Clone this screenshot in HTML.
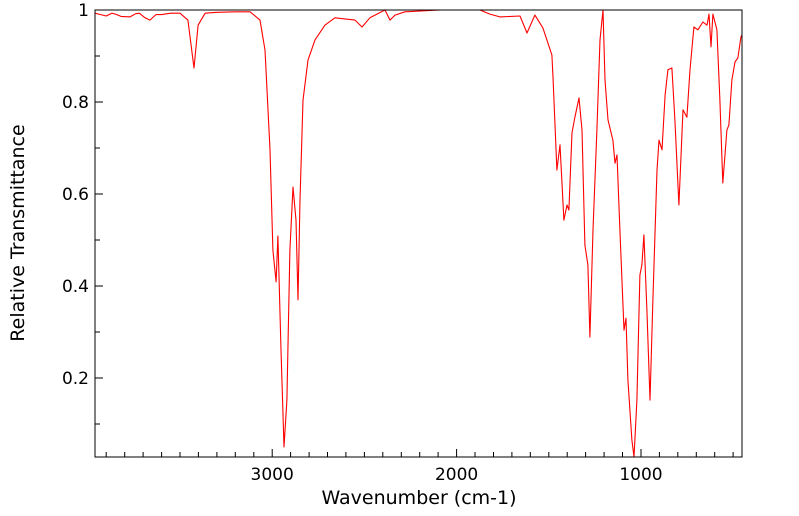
<!DOCTYPE html>
<html><head><meta charset="utf-8"><style>
html,body{margin:0;padding:0;background:#fff;}
svg{display:block;font-family:"DejaVu Sans","Liberation Sans",sans-serif;}
</style></head><body>
<svg id="chart" width="799" height="516" viewBox="0 0 799 516" xmlns="http://www.w3.org/2000/svg">
<g id="ticks"></g>
<path id="line" fill="none" stroke="#ff0000" stroke-width="1.1" stroke-linejoin="round"></path>
<rect x="95" y="10" width="647" height="447" fill="none" stroke="#000" stroke-width="1"></rect>
<g id="labels" font-size="17" fill="#000"></g>
<text x="419" y="504" text-anchor="middle" font-size="19">Wavenumber (cm-1)</text>
<text x="0" y="0" transform="translate(24,233) rotate(-90)" text-anchor="middle" font-size="19">Relative Transmittance</text>
</svg>
<script>
const wavenumbers=[3961,3930,3900,3870,3850,3820,3771,3740,3720,3690,3663,3630,3600,3550,3500,3457,3424,3402,3364,3300,3200,3120,3066,3039,3012,2996,2979,2969,2952,2936,2920,2904,2887,2871,2860,2849,2833,2806,2768,2714,2660,2551,2513,2470,2388,2361,2334,2280,2090,1873,1819,1765,1656,1618,1575,1532,1510,1483,1477,1456,1439,1418,1401,1391,1374,1358,1336,1320,1304,1288,1277,1260,1239,1222,1206,1195,1179,1152,1141,1130,1114,1092,1081,1071,1049,1038,1022,1006,995,984,968,951,935,913,902,886,869,854,832,816,794,772,751,734,713,691,664,642,631,620,610,588,572,556,534,523,507,490,474,458,452];
const transmittance=[0.993,0.990,0.987,0.993,0.991,0.986,0.985,0.992,0.993,0.983,0.978,0.990,0.990,0.993,0.993,0.978,0.874,0.967,0.993,0.995,0.996,0.996,0.978,0.913,0.696,0.478,0.409,0.509,0.261,0.050,0.152,0.478,0.615,0.543,0.370,0.587,0.804,0.891,0.935,0.967,0.983,0.978,0.963,0.983,1.0,0.978,0.989,0.996,1.0,1.0,0.991,0.985,0.987,0.950,0.989,0.961,0.935,0.902,0.854,0.652,0.707,0.543,0.576,0.565,0.733,0.767,0.809,0.739,0.489,0.446,0.289,0.522,0.739,0.935,1.0,0.848,0.761,0.717,0.667,0.685,0.522,0.304,0.330,0.196,0.065,0.028,0.152,0.424,0.446,0.511,0.348,0.152,0.370,0.652,0.717,0.696,0.815,0.870,0.874,0.761,0.576,0.783,0.767,0.870,0.963,0.957,0.974,0.967,0.991,0.920,0.991,0.957,0.804,0.624,0.739,0.750,0.848,0.887,0.896,0.941,0.946];
const xTickLabels=[3000,2000,1000];
const yTickLabels=[0.2,0.4,0.6,0.8,1];
const X0=95,X1=742,Y0=457,Y1=10,WMAX=3961,WMIN=452,TMIN=0.0283,TMAX=1.0;
function xs(w){return X0+(WMAX-w)/(WMAX-WMIN)*(X1-X0);}
function ys(t){return Y0-(t-TMIN)/(TMAX-TMIN)*(Y0-Y1);}
const NS='http://www.w3.org/2000/svg';
let d='';
for(let i=0;i<wavenumbers.length;i++){d+=(i?'L':'M')+xs(wavenumbers[i]).toFixed(1)+','+ys(transmittance[i]).toFixed(1);}
document.getElementById('line').setAttribute('d',d);
const tg=document.getElementById('ticks'),lg=document.getElementById('labels');
let td='';
for(let w=3900;w>=500;w-=100){const x=xs(w);const L=(w%1000===0)?8:5;td+='M'+x.toFixed(1)+','+Y0+'v-'+L;}
for(let k=1;k<=10;k++){const t=k/10;const y=ys(t);const L=(k%2===0)?8:5;td+='M'+X0+','+y.toFixed(1)+'h'+L;}
const tp=document.createElementNS(NS,'path');
tp.setAttribute('d',td);tp.setAttribute('stroke','#000');tp.setAttribute('fill','none');


tg.appendChild(tp);
xTickLabels.forEach(v=>{const t=document.createElementNS(NS,'text');
t.setAttribute('x',xs(v));t.setAttribute('y',480);t.setAttribute('text-anchor','middle');t.textContent=v;


lg.appendChild(t);});
yTickLabels.forEach(v=>{const t=document.createElementNS(NS,'text');
t.setAttribute('x',89);t.setAttribute('y',ys(v)+6);t.setAttribute('text-anchor','end');t.textContent=v;


lg.appendChild(t);});
</script>
</body></html>
